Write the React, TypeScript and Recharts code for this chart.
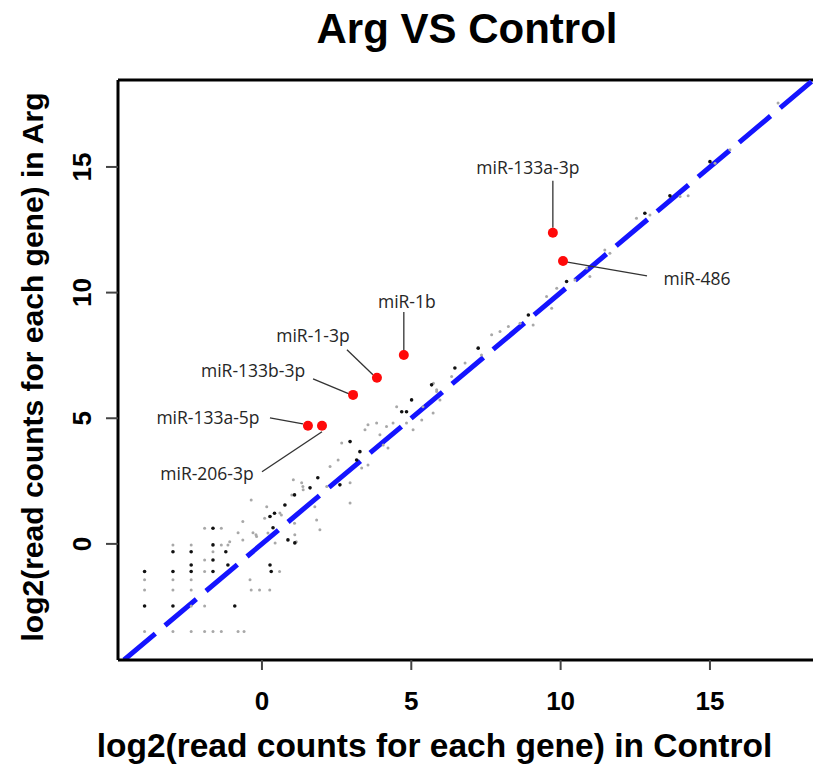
import React from 'react';
import { ScatterChart, Scatter, XAxis, YAxis, ReferenceLine, Label, Customized } from 'recharts';

// axis ranges (plot box edges)
const xDomain = [-4.82, 18.45];
const yDomain = [-4.62, 18.46];
const xTicks = [0, 5, 10, 15];
const yTicks = [0, 5, 10, 15];

// highlighted miRNAs: log2 counts in Control (x) and Arg (y)
const miRNames = ['miR-133a-3p', 'miR-486', 'miR-1b', 'miR-1-3p', 'miR-133b-3p', 'miR-133a-5p', 'miR-206-3p'];
const miRControl = [9.74, 10.08, 4.75, 3.85, 3.05, 1.54, 2.01];
const miRArg = [12.38, 11.26, 7.52, 6.61, 5.93, 4.7, 4.7];

// low count genes sit on a grid (discrete read counts)
const gridDark: [number, number][] = [
  [-3.93, -1.1], [-2.98, -1.1], [-2.37, -1.1], [-1.64, -1.1], [0.31, -1.1],
  [-3.93, -2.47], [-2.98, -2.47], [-0.91, -2.47],
  [-2.37, -0.84], [-1.14, -0.84], [0.27, -0.84],
  [-1.64, -0.64],
  [-2.98, -0.31], [-2.37, -0.31], [-1.21, -0.31],
  [-1.64, -0.04],
  [-1.64, 0.62],
];
const gridLight: [number, number][] = [
  [-3.93, -1.43], [-2.98, -1.43], [-2.37, -1.43], [-0.4, -1.43],
  [-3.93, -1.83], [-2.98, -1.83], [-2.37, -1.83], [-0.36, -1.83], [-0.08, -1.83], [0.26, -1.83],
  [-2.37, -2.47], [-1.92, -2.47],
  [-3.93, -3.49], [-2.98, -3.49], [-2.37, -3.49], [-1.92, -3.49], [-1.64, -3.49], [-1.36, -3.49], [-0.8, -3.49], [-0.6, -3.49],
  [-1.92, -1.1], [0.59, -1.1],
  [-1.92, -0.64],
  [-2.98, -0.04], [-2.37, -0.04], [-1.36, -0.04], [-1.14, -0.04],
  [-1.64, -0.31],
  [-1.92, 0.62], [-1.36, 0.62],
];

// the bulk of genes along the diagonal
const bandDark: [number, number][] = [
  [5.68, 6.33], [4.68, 5.26], [3.28, 3.67], [3.17, 3.34], [2.61, 2.35], [1.87, 2.63], [1.61, 2.23],
  [0.77, 1.55], [0.27, 1.09], [0.87, 0.16], [1.1, 0.04], [4.84, 5.26], [6.46, 7.0], [7.24, 7.79],
  [8.92, 9.11], [10.2, 10.44], [0.37, 0.64], [1.09, 1.95], [0.42, 1.22], [2.95, 4.07], [5.01, 5.73],
  [12.82, 13.16], [13.66, 13.85], [15.0, 15.21],
];
const bandLight: [number, number][] = [
  [5.85, 6.13], [5.96, 5.73], [5.73, 5.21], [4.51, 5.46], [4.84, 4.81], [5.06, 4.54], [4.39, 4.81],
  [4.17, 4.67], [3.84, 4.81], [3.55, 4.74], [3.45, 4.54], [3.95, 4.34], [4.06, 3.94], [4.22, 3.82],
  [2.67, 4.02], [2.55, 3.34], [2.28, 3.08], [2.95, 2.43], [2.95, 1.63], [1.38, 2.15], [1.33, 2.43],
  [1.05, 2.55], [1.0, 1.95], [0.6, 1.23], [0.16, 1.48], [-0.18, 0.29], [0.44, 0.04], [1.1, 0.36],
  [1.83, 0.95], [1.94, 0.56], [1.77, 1.48], [2.17, 2.28], [3.34, 3.02], [3.55, 3.14], [5.35, 4.93],
  [5.39, 5.46], [5.74, 6.39], [5.85, 6.06], [6.8, 7.2], [6.35, 6.66], [7.35, 7.52], [7.69, 8.32],
  [7.97, 8.45], [8.25, 8.65], [8.64, 8.78], [9.08, 8.71], [9.53, 9.84], [9.7, 9.38], [9.87, 10.17],
  [10.48, 10.5], [10.87, 10.97], [10.98, 10.64], [11.48, 11.7], [11.65, 11.57], [12.54, 12.96],
  [12.99, 13.09], [14.0, 13.82], [14.27, 13.85], [15.17, 15.15], [15.67, 15.68], [17.28, 17.54],
  [1.37, 2.28], [0.76, 1.55], [0.26, 1.09], [0.09, 1.02], [0.65, 1.15], [1.09, 0.82], [0.2, 0.43],
  [-0.36, 1.75], [-0.8, 0.44], [-0.64, 0.16], [-0.3, 0.44], [-0.2, 0.36], [-1.08, 0.09], [-0.64, 0.89],
  [1.15, 0.09],
];

const FONT = '"Liberation Sans", Arial, Helvetica, sans-serif';
const LABEL_FONT = '"Open Sans", "Noto Sans", sans-serif';

// where each callout sits relative to its dot (pixels)
const callouts: Record<string, { lx: number; ly: number; x1: number; y1: number; x2: number; y2: number }> = {
  'miR-133a-3p': { lx: -25, ly: -66, x1: 0, y1: -5, x2: 0, y2: -52 },
  'miR-486': { lx: 134, ly: 17, x1: 3, y1: 1, x2: 84, y2: 15 },
  'miR-1b': { lx: 3, ly: -54, x1: 0, y1: -4, x2: 0, y2: -43 },
  'miR-1-3p': { lx: -64, ly: -43, x1: -4, y1: -3, x2: -30, y2: -28 },
  'miR-133b-3p': { lx: -100, ly: -25, x1: -4, y1: -1, x2: -40, y2: -16 },
  'miR-133a-5p': { lx: -100, ly: -9, x1: -5, y1: -2, x2: -38, y2: -8 },
  'miR-206-3p': { lx: -115, ly: 47, x1: 0, y1: 6, x2: -60, y2: 46 },
};

const toPoints = (pts: [number, number][]) => pts.map(([x, y]) => ({ x, y }));
const darkData = toPoints([...gridDark, ...bandDark]);
const lightData = toPoints([...gridLight, ...bandLight]);
const miRData = miRNames.map((name, i) => ({ name, x: miRControl[i], y: miRArg[i] }));

const DarkDot = (props: any) => <circle cx={props.cx} cy={props.cy} r={1.8} fill="#111" />;
const LightDot = (props: any) => <circle cx={props.cx} cy={props.cy} r={1.5} fill="#a8a8a8" />;

const HighlightDot = (props: any) => {
  const { cx, cy, payload } = props;
  const c = callouts[payload.name];
  return (
    <g>
      <line x1={cx + c.x1} y1={cy + c.y1} x2={cx + c.x2} y2={cy + c.y2} stroke="#333" strokeWidth={1.3} />
      <circle cx={cx} cy={cy} r={5} fill="#ff0a0a" />
      <text
        x={cx + c.lx}
        y={cy + c.ly}
        textAnchor="middle"
        dominantBaseline="central"
        fontFamily={LABEL_FONT}
        fontSize={17.5}
        fill="#262626"
      >
        {payload.name}
      </text>
    </g>
  );
};

const YTick = (props: any) => {
  const { x, y, payload } = props;
  return (
    <text
      x={x}
      y={y}
      transform={`rotate(-90, ${x}, ${y})`}
      textAnchor="middle"
      dominantBaseline="central"
      fontFamily={FONT}
      fontWeight="bold"
      fontSize={26}
      fill="#000"
    >
      {payload.value}
    </text>
  );
};

const Title = () => (
  <text x={467} y={43} textAnchor="middle" fontFamily={FONT} fontWeight="bold" fontSize={42} fill="#000">
    Arg VS Control
  </text>
);

export default function App() {
  return (
    <div style={{ width: 813, height: 766, overflow: 'hidden' }}>
      <style>{'body{margin:0;overflow:hidden}'}</style>
      <ScatterChart width={813} height={766} margin={{ top: 80, right: 0, bottom: 0, left: 0 }}>
        <XAxis
          type="number"
          dataKey="x"
          domain={xDomain}
          allowDataOverflow
          ticks={xTicks}
          interval={0}
          height={106}
          tickSize={10}
          tickMargin={22}
          axisLine={{ stroke: '#000', strokeWidth: 3 }}
          tickLine={{ stroke: '#444', strokeWidth: 2 }}
          tick={{ fontFamily: FONT, fontWeight: 'bold', fontSize: 26, fill: '#000' }}
        >
          <Label
            content={(p: any) => (
              <text
                x={p.viewBox.x - 31 + 695 / 2}
                y={p.viewBox.y + 97}
                textAnchor="middle"
                fontFamily={FONT}
                fontWeight="bold"
                fontSize={33.5}
                fill="#000"
              >
                log2(read counts for each gene) in Control
              </text>
            )}
          />
        </XAxis>
        <YAxis
          type="number"
          dataKey="y"
          domain={yDomain}
          allowDataOverflow
          ticks={yTicks}
          interval={0}
          width={118}
          tickSize={12}
          tickMargin={24}
          axisLine={{ stroke: '#000', strokeWidth: 3 }}
          tickLine={{ stroke: '#444', strokeWidth: 2 }}
          tick={<YTick />}
        >
          <Label
            content={(p: any) => {
              const cx = p.viewBox.x + 32;
              const cy = p.viewBox.y + p.viewBox.height / 2 - 3;
              return (
                <text
                  x={cx}
                  y={cy}
                  transform={`rotate(-90, ${cx}, ${cy})`}
                  textAnchor="middle"
                  dominantBaseline="central"
                  fontFamily={FONT}
                  fontWeight="bold"
                  fontSize={30}
                  fill="#000"
                >
                  log2(read counts for each gene) in Arg
                </text>
              );
            }}
          />
        </YAxis>
        {/* top side of the plot box */}
        <ReferenceLine y={yDomain[1]} stroke="#000" strokeWidth={3} ifOverflow="visible" />
        <Scatter data={lightData} shape={<LightDot />} isAnimationActive={false} />
        <Scatter data={darkData} shape={<DarkDot />} isAnimationActive={false} />
        <ReferenceLine
          segment={[
            { x: -4.62, y: -4.62 },
            { x: 19.5, y: 19.5 },
          ]}
          stroke="#1414ff"
          strokeWidth={5}
          strokeDasharray="41 12.6"
          ifOverflow="hidden"
        />
        <Scatter data={miRData} shape={<HighlightDot />} isAnimationActive={false} />
        <Customized component={Title} />
      </ScatterChart>
    </div>
  );
}
